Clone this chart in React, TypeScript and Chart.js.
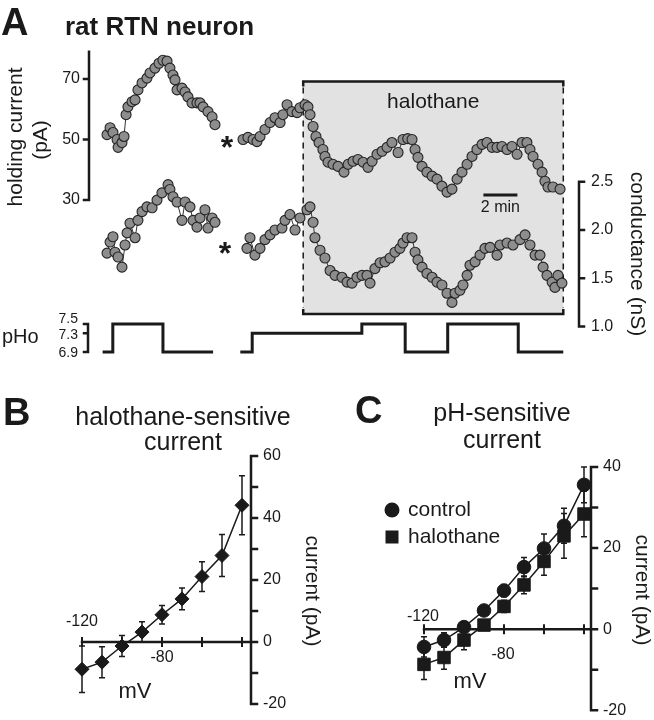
import React, { useEffect, useRef } from "react";
import { Chart, registerables } from "chart.js";

Chart.register(...registerables);

const FONT = '"Liberation Sans", Arial, Helvetica, sans-serif';
const INK = "#1a1a1a";

// ---------------- Panel A data (time in minutes) ----------------
const holdingSeg1: number[][] = [
  [0.06, 51.6], [0.24, 53.9], [0.41, 52.3], [0.65, 50.0], [0.71, 47.4], [0.94, 49.0],
  [1.06, 51.0], [1.18, 58.2], [1.29, 60.8], [1.53, 62.5], [1.71, 63.1], [1.88, 66.4],
  [2.12, 68.7], [2.41, 70.3], [2.59, 72.0], [2.88, 73.6], [3.12, 75.2], [3.35, 76.2],
  [3.59, 75.9], [3.76, 73.6], [3.94, 71.3], [4.06, 69.7], [4.18, 66.4], [4.47, 67.0],
  [4.65, 65.7], [4.82, 64.1], [5.06, 62.1], [5.35, 62.1], [5.53, 62.1], [5.71, 60.8],
  [6.0, 59.2], [6.24, 57.5], [6.41, 54.9],
];
const holdingSeg2: number[][] = [
  [8.06, 50.0], [8.35, 50.7], [8.65, 50.0], [8.88, 49.3], [9.06, 51.0], [9.35, 53.3],
  [9.65, 55.6], [9.94, 57.2], [10.24, 55.6], [10.41, 58.2], [10.65, 61.5], [10.94, 59.2],
  [11.24, 58.9], [11.41, 60.5], [11.71, 61.5], [11.88, 60.8], [12.0, 58.2], [12.18, 54.3],
  [12.35, 51.0], [12.53, 49.0], [12.76, 46.7], [12.88, 44.4], [13.06, 42.5], [13.35, 41.8],
  [13.65, 41.1], [14.0, 39.2], [14.24, 41.8], [14.53, 42.8], [14.82, 43.4], [15.12, 42.5],
  [15.41, 40.8], [15.65, 42.8], [15.94, 45.1], [16.24, 46.1], [16.53, 47.4], [16.82, 49.0],
  [17.18, 45.7], [17.47, 50.0], [17.75, 50.3], [18.0, 50.0], [18.18, 46.7], [18.35, 44.1],
  [18.59, 41.1], [18.88, 39.2], [19.18, 37.9], [19.47, 36.9], [19.76, 34.6], [20.06, 32.6],
  [20.35, 33.6], [20.65, 36.9], [20.94, 39.2], [21.24, 41.8], [21.53, 44.4], [21.82, 46.7],
  [22.12, 48.4], [22.41, 49.0], [22.71, 47.4], [23.0, 47.4], [23.29, 47.7], [23.59, 46.7],
  [23.88, 47.7], [24.18, 45.1], [24.47, 49.0], [24.76, 49.0], [24.94, 46.7], [25.12, 44.4],
  [25.41, 41.8], [25.65, 39.2], [25.82, 36.2], [26.0, 34.3], [26.29, 34.3], [26.71, 33.6],
];
const conductanceSeg1: number[][] = [
  [0.06, 1.76], [0.24, 1.875], [0.41, 1.93], [0.53, 1.77], [0.71, 1.72], [0.94, 1.615],
  [1.12, 1.845], [1.24, 1.97], [1.41, 2.07], [1.71, 1.92], [1.88, 2.1], [2.12, 2.19],
  [2.41, 2.24], [2.71, 2.23], [3.0, 2.31], [3.29, 2.385], [3.65, 2.47], [3.76, 2.42],
  [3.94, 2.345], [4.18, 2.29], [4.47, 2.1], [4.65, 2.29], [4.94, 2.24], [5.12, 2.1],
  [5.35, 2.03], [5.53, 2.125], [5.82, 2.21], [6.0, 2.02], [6.24, 2.125], [6.41, 2.08],
];
const conductanceSeg2: number[][] = [
  [8.29, 1.81], [8.47, 1.92], [8.76, 1.74], [9.06, 1.81], [9.35, 1.9], [9.65, 1.95],
  [9.94, 2.0], [10.35, 2.02], [10.53, 2.1], [10.82, 2.16], [11.12, 2.0], [11.41, 2.125],
  [11.82, 2.21], [12.0, 2.24], [12.18, 2.08], [12.29, 1.92], [12.59, 1.79], [12.88, 1.71],
  [13.18, 1.58], [13.47, 1.53], [13.88, 1.51], [14.18, 1.46], [14.47, 1.45], [14.76, 1.51],
  [15.06, 1.53], [15.35, 1.53], [15.53, 1.45], [15.82, 1.6], [16.12, 1.66], [16.41, 1.67],
  [16.71, 1.71], [17.0, 1.77], [17.29, 1.81], [17.47, 1.865], [17.71, 1.92], [18.0, 1.92],
  [18.18, 1.77], [18.35, 1.69], [18.59, 1.615], [18.88, 1.55], [19.18, 1.51], [19.47, 1.46],
  [19.76, 1.43], [20.06, 1.345], [20.35, 1.25], [20.53, 1.345], [20.82, 1.375], [21.0, 1.43],
  [21.24, 1.53], [21.41, 1.635], [21.71, 1.67], [22.0, 1.74], [22.29, 1.81], [22.59, 1.82],
  [23.0, 1.74], [23.18, 1.845], [23.59, 1.865], [23.94, 1.845], [24.35, 1.9], [24.65, 1.95],
  [24.94, 1.845], [25.24, 1.74], [25.53, 1.74], [25.71, 1.615], [25.94, 1.53], [26.24, 1.46],
  [26.41, 1.405], [26.59, 1.53], [26.82, 1.45],
];
const pHoSeg1Times = [-0.2, 0.4, 3.35, 6.3];
const pHoSeg1Levels = [6.9, 7.5, 6.9];
const pHoSeg2Times = [7.9, 8.6, 15.05, 17.6, 20.1, 24.25, 26.9];
const pHoSeg2Levels = [6.9, 7.3, 7.5, 6.9, 7.5, 6.9];
const holdingTicks = [70, 50, 30];
const holdingAxisTop = 79;
const conductanceTicks = [2.5, 2.0, 1.5, 1.0];
const pHoTicks = [7.5, 7.3, 6.9];
const halothaneStart = 11.6;
const halothaneEnd = 26.9;
const scaleBarStart = 22.2;
const scaleBarMinutes = 2;
const asteriskTimeTop = 7.12;
const asteriskTimeBottom = 7.0;
const asteriskHolding = 50;
const asteriskConductance = 1.83;

// ---------------- Panels B & C data ----------------
const voltages = [-120, -110, -100, -90, -80, -70, -60, -50, -40];
const halothaneSensitive = [-8.8, -6.5, -1.3, 3.2, 8.8, 13.9, 21.1, 27.9, 44.1];
const halothaneSensitiveErr = [7.5, 5.0, 3.4, 3.3, 3.0, 3.5, 4.8, 6.8, 9.5];
const pHSensitiveControl = [-4.4, -2.7, 0.5, 4.6, 9.5, 15.3, 19.9, 25.5, 35.6];
const pHSensitiveControlErr = [2.5, 1.8, 1.2, 1.2, 1.5, 2.4, 3.6, 4.3, 4.4];
const pHSensitiveHalothane = [-8.7, -7.0, -2.7, 1.0, 5.6, 10.9, 16.7, 23.0, 28.4];
const pHSensitiveHalothaneErr = [3.7, 2.9, 2.4, 1.2, 1.5, 2.2, 3.4, 5.5, 5.6];
const ivXTicks = [-120, -100, -80, -60, -40];
const bYMajor = [60, 40, 20, 0, -20];
const bYMinor = [50, 30, 10, -10];
const cYMajor = [40, 20, 0, -20];
const cYMinor = [30, 10, -10];

// ---------------- layout helpers ----------------
const A_W = 654, A_H = 370, A_LEFT = 89, A_RIGHT = 579, A_TOP = 40, A_BOTTOM = 360;
const PX_PER_MIN = 17, T0_X = 106;
const HOLD_REF = { v: 50, px: 139.5, s: 3.025 };
const COND_REF = { v: 1.0, px: 326.5, s: 96.5 };
const PH_REF = { v: 6.9, px: 352, s: 28 / 0.6 };
function rangeFor(ref: any) {
  return { min: ref.v - (A_BOTTOM - ref.px) / ref.s, max: ref.v + (ref.px - A_TOP) / ref.s };
}

function pts(pairs: number[][]) {
  return pairs.map((p) => ({ x: p[0], y: p[1] }));
}
function stepPoints(times: number[], levels: number[]) {
  const out: any[] = [];
  levels.forEach((lv, i) => {
    out.push({ x: times[i], y: lv }, { x: times[i + 1], y: lv });
  });
  return out;
}

function text(ctx: CanvasRenderingContext2D, s: string, x: number, y: number, font: string,
  align: CanvasTextAlign = "left", baseline: CanvasTextBaseline = "middle", angle = 0) {
  ctx.save();
  ctx.font = font;
  ctx.fillStyle = INK;
  ctx.textAlign = align;
  ctx.textBaseline = baseline;
  ctx.translate(x, y);
  if (angle) ctx.rotate(angle);
  ctx.fillText(s, 0, 0);
  ctx.restore();
}

const traceStyle = {
  type: "line",
  borderColor: "#333",
  borderWidth: 1,
  pointRadius: 5,
  pointBackgroundColor: "#8d8d8d",
  pointBorderColor: "#242424",
  pointBorderWidth: 1.1,
  tension: 0,
  clip: false,
};

const panelAPlugin = {
  id: "panelA",
  beforeDatasetsDraw(chart: any) {
    const { ctx } = chart;
    const x = chart.scales.x;
    const xl = x.getPixelForValue(halothaneStart);
    const xr = x.getPixelForValue(halothaneEnd);
    const top = 81.5, bot = 314;
    ctx.save();
    ctx.fillStyle = "#e2e2e2";
    ctx.fillRect(xl, top, xr - xl, bot - top);
    ctx.strokeStyle = INK;
    ctx.lineWidth = 2.5;
    ctx.lineJoin = "miter";
    ctx.beginPath();
    ctx.moveTo(xl, top + 5); ctx.lineTo(xl, top); ctx.lineTo(xr, top); ctx.lineTo(xr, top + 5);
    ctx.moveTo(xl, bot - 5); ctx.lineTo(xl, bot); ctx.lineTo(xr, bot); ctx.lineTo(xr, bot - 5);
    ctx.stroke();
    ctx.lineWidth = 1.5;
    ctx.setLineDash([6, 5]);
    ctx.beginPath();
    ctx.moveTo(xl, top + 6); ctx.lineTo(xl, bot - 6);
    ctx.moveTo(xr, top + 6); ctx.lineTo(xr, bot - 6);
    ctx.stroke();
    ctx.setLineDash([]);
    text(ctx, "halothane", (xl + xr) / 2, 102, `21px ${FONT}`, "center");
    // scale bar
    const sb0 = x.getPixelForValue(scaleBarStart);
    const sb1 = x.getPixelForValue(scaleBarStart + scaleBarMinutes);
    ctx.lineWidth = 3;
    ctx.beginPath(); ctx.moveTo(sb0, 195); ctx.lineTo(sb1, 195); ctx.stroke();
    text(ctx, `${scaleBarMinutes} min`, (sb0 + sb1) / 2, 208, `16px ${FONT}`, "center");
    ctx.restore();
  },
  afterDraw(chart: any) {
    const { ctx, chartArea } = chart;
    const x = chart.scales.x, yI = chart.scales.yI, yG = chart.scales.yG, yP = chart.scales.yP;
    ctx.save();
    ctx.strokeStyle = INK;
    ctx.lineWidth = 2.5;
    ctx.lineCap = "square";
    // holding current axis
    const lx = chartArea.left;
    ctx.beginPath();
    ctx.moveTo(lx, yI.getPixelForValue(holdingAxisTop));
    ctx.lineTo(lx, yI.getPixelForValue(holdingTicks[holdingTicks.length - 1]));
    holdingTicks.forEach((v) => {
      const py = yI.getPixelForValue(v);
      ctx.moveTo(lx - 5, py); ctx.lineTo(lx, py);
    });
    ctx.stroke();
    holdingTicks.forEach((v) => text(ctx, String(v), lx - 9, yI.getPixelForValue(v), `16px ${FONT}`, "right"));
    text(ctx, "holding current", 16, 137, `21px ${FONT}`, "center", "middle", -Math.PI / 2);
    text(ctx, "(pA)", 41, 140, `21px ${FONT}`, "center", "middle", -Math.PI / 2);
    // conductance axis
    const rx = chartArea.right;
    ctx.beginPath();
    ctx.moveTo(rx, yG.getPixelForValue(conductanceTicks[0]));
    ctx.lineTo(rx, yG.getPixelForValue(conductanceTicks[conductanceTicks.length - 1]));
    conductanceTicks.forEach((v) => {
      const py = yG.getPixelForValue(v);
      ctx.moveTo(rx, py); ctx.lineTo(rx + 5, py);
    });
    ctx.stroke();
    conductanceTicks.forEach((v) => text(ctx, v.toFixed(1), rx + 12, yG.getPixelForValue(v), `16px ${FONT}`, "left"));
    text(ctx, "conductance (nS)", 637, 254, `21px ${FONT}`, "center", "middle", Math.PI / 2);
    // pHo bracket
    const px = chartArea.left - 1;
    ctx.beginPath();
    ctx.moveTo(px, yP.getPixelForValue(pHoTicks[0]));
    ctx.lineTo(px, yP.getPixelForValue(pHoTicks[pHoTicks.length - 1]));
    pHoTicks.forEach((v) => {
      const py = yP.getPixelForValue(v);
      ctx.moveTo(px - 4, py); ctx.lineTo(px, py);
    });
    ctx.stroke();
    const labelShift = [-5, 2, 1];
    pHoTicks.forEach((v, i) =>
      text(ctx, v.toFixed(1), px - 10, yP.getPixelForValue(v) + labelShift[i], `14px ${FONT}`, "right"));
    text(ctx, "pHo", 2, 343, `20px ${FONT}`, "left", "alphabetic");
    // asterisks
    text(ctx, "*", x.getPixelForValue(asteriskTimeTop), yI.getPixelForValue(asteriskHolding) + 18, `bold 32px ${FONT}`, "center", "alphabetic");
    text(ctx, "*", x.getPixelForValue(asteriskTimeBottom), yG.getPixelForValue(asteriskConductance) + 18, `bold 32px ${FONT}`, "center", "alphabetic");
    // titles
    text(ctx, "A", 1, 35, `bold 38px ${FONT}`, "left", "alphabetic");
    text(ctx, "rat RTN neuron", 65, 35, `bold 26px ${FONT}`, "left", "alphabetic");
    ctx.restore();
  },
};

function drawIVAxes(chart: any, yMajor: number[], yMinor: number[]) {
  const { ctx, chartArea } = chart;
  const xs = chart.scales.x, ys = chart.scales.y;
  const ax = chartArea.right;
  const y0 = ys.getPixelForValue(0);
  ctx.save();
  ctx.strokeStyle = INK;
  ctx.lineWidth = 2.5;
  ctx.lineCap = "square";
  ctx.beginPath();
  ctx.moveTo(ax, ys.getPixelForValue(Math.max(...yMajor)));
  ctx.lineTo(ax, ys.getPixelForValue(Math.min(...yMajor)));
  [...yMajor, ...yMinor].forEach((v) => {
    const py = ys.getPixelForValue(v);
    ctx.moveTo(ax, py); ctx.lineTo(ax + 6, py);
  });
  ctx.moveTo(xs.getPixelForValue(ivXTicks[0]), y0);
  ctx.lineTo(ax, y0);
  ctx.stroke();
  ctx.lineWidth = 2;
  ctx.lineCap = "butt";
  ctx.beginPath();
  ivXTicks.forEach((v) => {
    const px = xs.getPixelForValue(v);
    ctx.moveTo(px, y0 - 5); ctx.lineTo(px, y0 + 5);
  });
  ctx.stroke();
  yMajor.forEach((v) => text(ctx, String(v), ax + 12, ys.getPixelForValue(v), `16px ${FONT}`, "left"));
  ctx.restore();
}

function drawErrorBars(chart: any, values: number[], errs: number[]) {
  const { ctx } = chart;
  const xs = chart.scales.x, ys = chart.scales.y;
  ctx.save();
  ctx.strokeStyle = INK;
  ctx.lineWidth = 1.5;
  ctx.beginPath();
  voltages.forEach((v, i) => {
    const px = xs.getPixelForValue(v);
    const hi = ys.getPixelForValue(values[i] + errs[i]);
    const lo = ys.getPixelForValue(values[i] - errs[i]);
    ctx.moveTo(px, hi); ctx.lineTo(px, lo);
    ctx.moveTo(px - 3, hi); ctx.lineTo(px + 3, hi);
    ctx.moveTo(px - 3, lo); ctx.lineTo(px + 3, lo);
  });
  ctx.stroke();
  ctx.restore();
}

const panelBPlugin = {
  id: "panelB",
  beforeDatasetsDraw(chart: any) {
    drawIVAxes(chart, bYMajor, bYMinor);
    drawErrorBars(chart, halothaneSensitive, halothaneSensitiveErr);
  },
  afterDraw(chart: any) {
    const { ctx } = chart;
    text(ctx, "B", 3, 55, `bold 38px ${FONT}`, "left", "alphabetic");
    text(ctx, "halothane-sensitive", 183, 55, `25px ${FONT}`, "center", "alphabetic");
    text(ctx, "current", 183, 80, `25px ${FONT}`, "center", "alphabetic");
    text(ctx, "current (pA)", 312, 221, `21px ${FONT}`, "center", "middle", Math.PI / 2);
    text(ctx, "-120", 82, 252, `16px ${FONT}`, "center");
    text(ctx, "-80", 162, 288, `16px ${FONT}`, "center");
    text(ctx, "mV", 135, 322, `22px ${FONT}`, "center");
  },
};

const panelCPlugin = {
  id: "panelC",
  beforeDatasetsDraw(chart: any) {
    drawIVAxes(chart, cYMajor, cYMinor);
    drawErrorBars(chart, pHSensitiveControl, pHSensitiveControlErr);
    drawErrorBars(chart, pHSensitiveHalothane, pHSensitiveHalothaneErr);
  },
  afterDraw(chart: any) {
    const { ctx } = chart;
    text(ctx, "C", 28, 53, `bold 38px ${FONT}`, "left", "alphabetic");
    text(ctx, "pH-sensitive", 175, 51, `25px ${FONT}`, "center", "alphabetic");
    text(ctx, "current", 175, 78, `25px ${FONT}`, "center", "alphabetic");
    text(ctx, "current (pA)", 315, 220, `21px ${FONT}`, "center", "middle", Math.PI / 2);
    text(ctx, "-120", 96, 247, `16px ${FONT}`, "center");
    text(ctx, "-80", 176, 285, `16px ${FONT}`, "center");
    text(ctx, "mV", 143, 312, `22px ${FONT}`, "center");
    // legend
    ctx.save();
    ctx.fillStyle = INK;
    ctx.beginPath(); ctx.arc(65, 140, 7.5, 0, Math.PI * 2); ctx.fill();
    ctx.fillRect(58.5, 160.5, 13, 13);
    ctx.restore();
    text(ctx, "control", 81, 140, `21px ${FONT}`, "left");
    text(ctx, "halothane", 81, 167, `21px ${FONT}`, "left");
  },
};

const baseOptions = (padding: any, scales: any) => ({
  responsive: false,
  maintainAspectRatio: false,
  animation: false,
  events: [],
  layout: { padding },
  plugins: { legend: { display: false }, tooltip: { enabled: false }, title: { display: false } },
  scales,
});

function configA(): any {
  return {
    type: "line",
    data: {
      datasets: [
        { ...traceStyle, data: pts(holdingSeg1), yAxisID: "yI" },
        { ...traceStyle, data: pts(holdingSeg2), yAxisID: "yI" },
        { ...traceStyle, data: pts(conductanceSeg1), yAxisID: "yG" },
        { ...traceStyle, data: pts(conductanceSeg2), yAxisID: "yG" },
        { type: "line", data: stepPoints(pHoSeg1Times, pHoSeg1Levels), yAxisID: "yP", borderColor: INK, borderWidth: 3, pointRadius: 0, clip: false },
        { type: "line", data: stepPoints(pHoSeg2Times, pHoSeg2Levels), yAxisID: "yP", borderColor: INK, borderWidth: 3, pointRadius: 0, clip: false },
      ],
    },
    options: baseOptions(
      { left: A_LEFT, right: A_W - A_RIGHT, top: A_TOP, bottom: A_H - A_BOTTOM },
      {
        x: { type: "linear", display: false, min: (A_LEFT - T0_X) / PX_PER_MIN, max: (A_RIGHT - T0_X) / PX_PER_MIN },
        yI: { type: "linear", display: false, ...rangeFor(HOLD_REF) },
        yG: { type: "linear", display: false, ...rangeFor(COND_REF) },
        yP: { type: "linear", display: false, ...rangeFor(PH_REF) },
      }
    ),
    plugins: [panelAPlugin],
  };
}

function ivDataset(values: number[], style: string, radius: number) {
  return {
    data: voltages.map((v, i) => ({ x: v, y: values[i] })),
    borderColor: INK,
    borderWidth: 1.5,
    pointStyle: style,
    pointRadius: radius,
    pointBackgroundColor: INK,
    pointBorderColor: INK,
    pointBorderWidth: 1,
    tension: 0,
    clip: false,
  };
}

function configB(): any {
  return {
    type: "line",
    data: { datasets: [ivDataset(halothaneSensitive, "rectRot", 7)] },
    options: baseOptions(
      { left: 72, right: 76, top: 86, bottom: 16 },
      {
        x: { type: "linear", display: false, min: -125, max: -35.5 },
        y: { type: "linear", display: false, min: -20, max: 60 },
      }
    ),
    plugins: [panelBPlugin],
  };
}

function configC(): any {
  return {
    type: "line",
    data: {
      datasets: [
        ivDataset(pHSensitiveControl, "circle", 6.8),
        ivDataset(pHSensitiveHalothane, "rect", 8.8),
      ],
    },
    options: baseOptions(
      { left: 87, right: 63, top: 97, bottom: 6 },
      {
        x: { type: "linear", display: false, min: -125, max: -36.5 },
        y: { type: "linear", display: false, min: -20, max: 40 },
      }
    ),
    plugins: [panelCPlugin],
  };
}

export default function App() {
  const aRef = useRef<HTMLCanvasElement>(null);
  const bRef = useRef<HTMLCanvasElement>(null);
  const cRef = useRef<HTMLCanvasElement>(null);
  useEffect(() => {
    const charts = [
      new Chart(aRef.current as HTMLCanvasElement, configA()),
      new Chart(bRef.current as HTMLCanvasElement, configB()),
      new Chart(cRef.current as HTMLCanvasElement, configC()),
    ];
    return () => charts.forEach((c) => c.destroy());
  }, []);
  return (
    <div style={{ position: "absolute", left: 0, top: 0, width: 654, height: 720, background: "#fff", overflow: "hidden" }}>
      <canvas ref={aRef} width={654} height={370} style={{ position: "absolute", left: 0, top: 0 }} />
      <canvas ref={bRef} width={327} height={350} style={{ position: "absolute", left: 0, top: 370 }} />
      <canvas ref={cRef} width={327} height={350} style={{ position: "absolute", left: 327, top: 370 }} />
    </div>
  );
}
